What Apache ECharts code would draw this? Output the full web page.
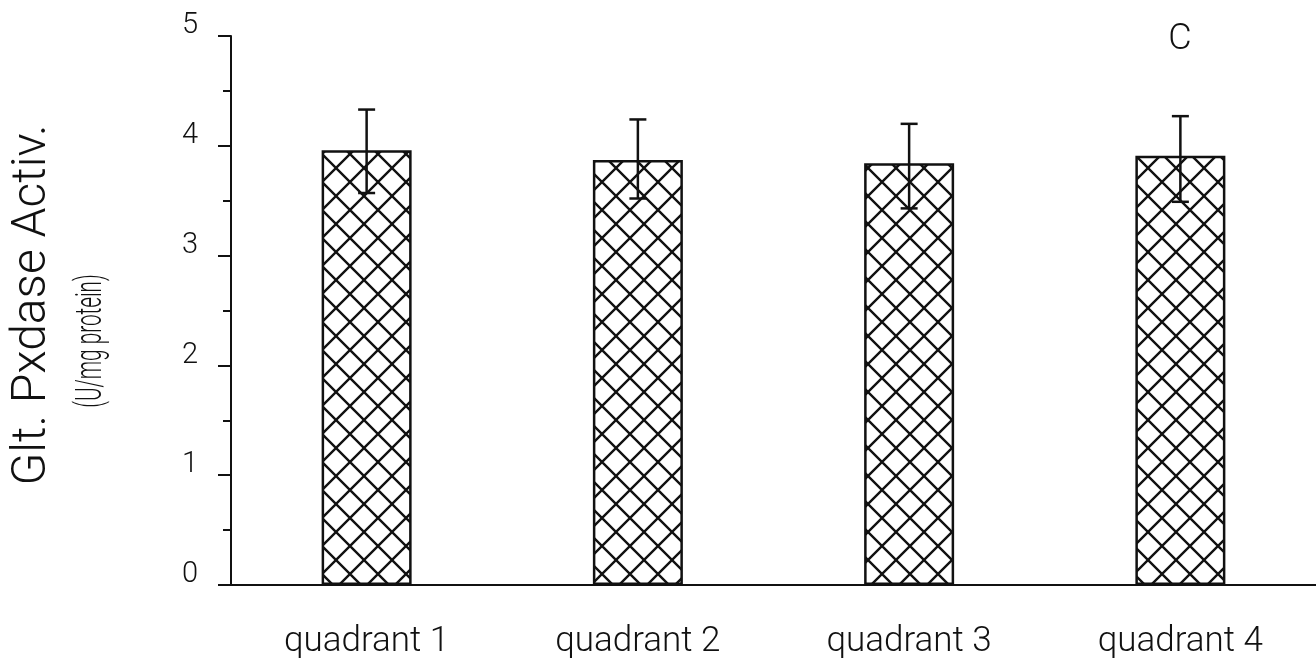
<!DOCTYPE html>
<html>
<head>
<meta charset="utf-8">
<script src="https://cdn.jsdelivr.net/npm/echarts@6/dist/echarts.min.js"></script>
<style>
html,body{margin:0;padding:0;background:#fff;}
#main{width:1316px;height:666px;}
</style>
</head>
<body>
<div id="main"></div>
<script>
const categories = ['quadrant 1', 'quadrant 2', 'quadrant 3', 'quadrant 4'];
const means = [3.96, 3.87, 3.84, 3.91];
const errUpper = [4.33, 4.24, 4.20, 4.27];
const errLower = [3.57, 3.52, 3.43, 3.49];
const yTicks = [0, 1, 2, 3, 4, 5];

const FONT = 'Roboto, "Liberation Sans", sans-serif';
const INK = '#111';

// cross-hatch pattern
const tile = document.createElement('canvas');
tile.width = 28; tile.height = 28;
const ctx = tile.getContext('2d');
ctx.fillStyle = '#fff';
ctx.fillRect(0, 0, 28, 28);
ctx.strokeStyle = INK;
ctx.lineWidth = 2.4;
ctx.beginPath();
ctx.moveTo(0, 0); ctx.lineTo(28, 28);
ctx.moveTo(28, 0); ctx.lineTo(0, 28);
ctx.stroke();

const chart = echarts.init(document.getElementById('main'), null, {renderer: 'canvas'});
chart.setOption({
  backgroundColor: '#fff',
  animation: false,
  grid: {left: 231, right: 0, top: 36, bottom: 81, containLabel: false},
  xAxis: {
    type: 'category',
    data: categories,
    axisLine: {lineStyle: {color: INK, width: 2}},
    axisTick: {show: false},
    axisLabel: {fontFamily: FONT, fontWeight: 300, fontSize: 35, color: INK, margin: 40}
  },
  yAxis: {
    type: 'value',
    min: 0, max: 5, interval: 1,
    splitLine: {show: false},
    axisLine: {show: true, lineStyle: {color: INK, width: 2}},
    axisTick: {show: true, length: 13, lineStyle: {color: INK, width: 2}},
    minorTick: {show: true, splitNumber: 2, length: 8, lineStyle: {color: INK, width: 2}},
    axisLabel: {
      fontFamily: FONT, fontWeight: 300, fontSize: 29, color: INK, margin: 33,
      verticalAlign: 'bottom', lineHeight: 20,
      formatter: v => yTicks.includes(v) ? String(v) : ''
    }
  },
  series: [
    {
      type: 'bar',
      data: means,
      barWidth: 90,
      itemStyle: {
        color: {image: tile, repeat: 'repeat'},
        borderColor: INK,
        borderWidth: 2.5
      }
    },
    {
      type: 'custom',
      data: categories.map((c, i) => [i, errLower[i], errUpper[i]]),
      z: 5,
      renderItem: function (params, api) {
        const x = api.value(0);
        const lo = api.coord([x, api.value(1)]);
        const hi = api.coord([x, api.value(2)]);
        const hw = 8.5;
        const st = {stroke: INK, lineWidth: 2.5};
        return {
          type: 'group',
          children: [
            {type: 'line', shape: {x1: hi[0], y1: hi[1], x2: lo[0], y2: lo[1]}, style: st},
            {type: 'line', shape: {x1: hi[0] - hw, y1: hi[1], x2: hi[0] + hw, y2: hi[1]}, style: st},
            {type: 'line', shape: {x1: lo[0] - hw, y1: lo[1], x2: lo[0] + hw, y2: lo[1]}, style: st}
          ]
        };
      }
    }
  ],
  graphic: [
    {
      type: 'text', x: 33, y: 305, rotation: Math.PI / 2,
      style: {text: 'Glt. Pxdase Activ.', fontFamily: FONT, fontWeight: 300, fontSize: 48,
              fill: INK, align: 'center', verticalAlign: 'middle'}
    },
    {
      type: 'text', x: 92, y: 341, rotation: Math.PI / 2, scaleX: 0.56,
      style: {text: '(U/mg protein)', fontFamily: FONT, fontWeight: 300, fontSize: 37,
              fill: INK, align: 'center', verticalAlign: 'middle'}
    },
    {
      type: 'text', x: 1180, y: 40,
      style: {text: 'C', fontFamily: FONT, fontWeight: 300, fontSize: 36,
              fill: INK, align: 'center', verticalAlign: 'middle'}
    }
  ]
});
</script>
</body>
</html>
